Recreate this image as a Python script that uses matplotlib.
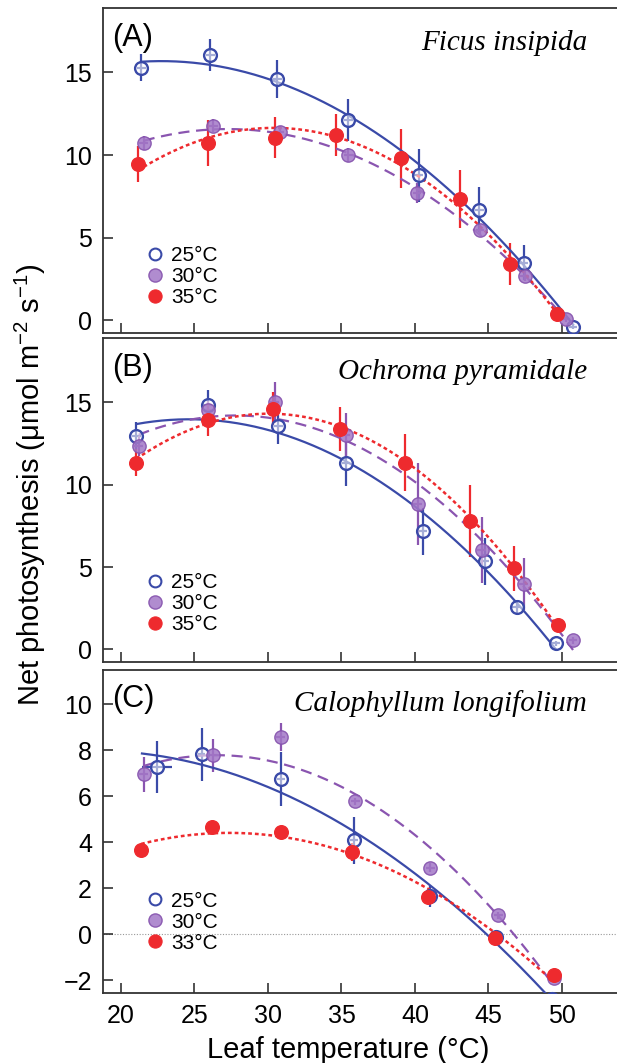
import numpy as np
import matplotlib
matplotlib.use("Agg")
import matplotlib.pyplot as plt
from matplotlib.lines import Line2D

plt.rcParams['font.family'] = ['Liberation Sans', 'DejaVu Sans']
plt.rcParams['mathtext.fontset'] = 'custom'
plt.rcParams['mathtext.rm'] = 'Liberation Sans'
plt.rcParams['mathtext.it'] = 'Liberation Sans:italic'

# ---------------- data ----------------
# Panel A: Ficus insipida
A_t25 = [21.39, 26.08, 30.63, 35.46, 40.25, 44.37, 47.39, 50.75]
A_y25 = [15.28, 16.03, 14.61, 12.13, 8.78, 6.69, 3.50, -0.37]
A_e25 = [0.82, 0.96, 1.14, 1.29, 1.60, 1.35, 1.05, 0.15]
A_t30 = [21.55, 26.29, 30.81, 35.46, 40.14, 44.42, 47.46, 50.24]
A_y30 = [10.73, 11.77, 11.38, 10.00, 7.70, 5.47, 2.68, 0.08]
A_e30 = [0.45, 0.40, 0.35, 0.40, 0.60, 0.30, 0.30, 0.15]
A_t35 = [21.16, 25.89, 30.47, 34.65, 39.04, 43.04, 46.43, 49.63]
A_y35 = [9.45, 10.71, 11.06, 11.22, 9.80, 7.32, 3.41, 0.41]
A_e35 = [1.10, 1.40, 1.25, 1.27, 1.80, 1.75, 1.25, 0.20]

# Panel B: Ochroma pyramidale
B_t25 = [21.05, 25.89, 30.69, 35.31, 40.53, 44.76, 46.93, 49.56]
B_y25 = [12.97, 14.86, 13.58, 11.30, 7.16, 5.34, 2.59, 0.39]
B_e25 = [0.80, 0.90, 1.10, 1.40, 1.40, 1.40, 0.40, 0.15]
B_t30 = [21.20, 25.94, 30.47, 35.31, 40.18, 44.53, 47.39, 50.75]
B_y30 = [12.32, 14.55, 15.00, 13.03, 8.84, 6.01, 3.97, 0.55]
B_e30 = [0.60, 0.50, 1.25, 1.30, 2.50, 2.00, 1.60, 0.20]
B_t35 = [21.05, 25.89, 30.35, 34.93, 39.32, 43.73, 46.75, 49.74]
B_y35 = [11.34, 13.92, 14.60, 13.37, 11.34, 7.78, 4.93, 1.47]
B_e35 = [0.80, 1.00, 1.00, 1.36, 1.75, 2.20, 1.36, 0.20]

# Panel C: Calophyllum longifolium
C_t25 = [22.46, 25.50, 30.88, 35.85, 41.03, 45.51, 49.33]
C_y25 = [7.28, 7.83, 6.74, 4.08, 1.65, -0.13, -2.79]
C_e25 = [1.13, 1.15, 1.18, 1.02, 0.47, 0.30, 0.15]
C_x25 = [1.03, 0.25, 0.25, 0.25, 0.25, 0.25, 0.63]
C_t30 = [21.55, 26.24, 30.86, 35.95, 41.03, 45.67, 49.45]
C_y30 = [6.96, 7.79, 8.57, 5.79, 2.90, 0.82, -1.88]
C_e30 = [0.77, 0.72, 0.60, 0.15, 0.20, 0.15, 0.15]
C_t33 = [21.37, 26.17, 30.86, 35.69, 40.87, 45.44, 49.45]
C_y33 = [3.67, 4.66, 4.47, 3.57, 1.62, -0.17, -1.77]
C_e33 = [0.25, 0.25, 0.25, 0.40, 0.25, 0.20, 0.15]

species = ["Ficus insipida", "Ochroma pyramidale", "Calophyllum longifolium"]
panel_labels = ["(A)", "(B)", "(C)"]
legend_A = ["25°C", "30°C", "35°C"]
legend_C = ["25°C", "30°C", "33°C"]

BLUE = '#3a4aa8'
PURPLE = '#8a55b0'
PURPLE_FACE = (0.64, 0.47, 0.78, 0.85)
PURPLE_EDGE = (0.52, 0.32, 0.68, 0.9)
RED = '#ee2a2e'

W, H = 617, 1063
fig = plt.figure(figsize=(W / 100, H / 100), dpi=100)

def rect(top, bottom, left=103, right=617):
    return [left / W, 1 - bottom / H, (right - left) / W, (bottom - top) / H]

axA = fig.add_axes(rect(8.4, 333))
axB = fig.add_axes(rect(338.4, 662))
axC = fig.add_axes(rect(670, 992.8))

XLIM = (18.78, 53.74)

def series(ax, t, y, e, color, face, mec, ls, lw, marker_ms, xerr=None, open_marker=False):
    t = np.asarray(t); y = np.asarray(y); e = np.asarray(e)
    if xerr is None:
        xerr = np.full_like(t, 0.3)
        x0, x1 = t.min(), t.max()
    else:
        xerr = np.asarray(xerr)
        x0, x1 = (t - xerr).min(), (t + xerr).max()
    ax.errorbar(t, y, yerr=e, xerr=xerr, fmt='none', ecolor=color, elinewidth=1.6,
                capsize=0, zorder=2)
    coef = np.polyfit(t, y, 2)
    xs = np.linspace(x0, x1, 200)
    ax.plot(xs, np.polyval(coef, xs), color=color, ls=ls, lw=lw, zorder=3)
    if open_marker:
        ax.plot(t, y, 'o', ms=marker_ms, mfc=(1, 1, 1, 0.55), mec=color, mew=1.7, zorder=4, ls='none')
    else:
        ax.plot(t, y, 'o', ms=marker_ms, mfc=face, mec=mec, mew=1.0, zorder=4, ls='none')

def style(ax, ylim, yticks, label, sp, legend_labels, leg_y, show_xlabels=False):
    ax.set_xlim(*XLIM)
    ax.set_ylim(*ylim)
    ax.set_xticks([20, 25, 30, 35, 40, 45, 50])
    ax.set_yticks(yticks)
    ax.tick_params(direction='in', length=7, width=1.1, labelsize=18, pad=8, colors='#222222',
                   labelcolor='black')
    if not show_xlabels:
        ax.tick_params(axis='x', labelbottom=False)
    for s in ['left', 'bottom', 'top']:
        ax.spines[s].set_linewidth(1.3)
        ax.spines[s].set_color('#333333')
    ax.spines['right'].set_visible(False)
    ax.text(0.0175, 0.884, label, transform=ax.transAxes, fontsize=22, ha='left', va='baseline')
    ax.text(0.942, 0.873, sp, transform=ax.transAxes, fontsize=21, ha='right', va='baseline',
            family='Liberation Serif', style='italic')
    handles = [
        Line2D([], [], marker='o', ls='none', ms=8.5, mfc='white', mec=BLUE, mew=1.5),
        Line2D([], [], marker='o', ls='none', ms=9.5, mfc=PURPLE_FACE, mec=PURPLE_EDGE, mew=1.0),
        Line2D([], [], marker='o', ls='none', ms=9.5, mfc=RED, mec=RED, mew=0.8),
    ]
    ax.legend(handles, legend_labels, loc='center left', bbox_to_anchor=(0.082, leg_y),
              frameon=False, fontsize=15, handlelength=0.9, handletextpad=0.35,
              borderpad=0, borderaxespad=0, labelspacing=0.1)

# Panel A
series(axA, A_t25, A_y25, A_e25, BLUE, None, BLUE, '-', 1.6, 9.2, open_marker=True)
series(axA, A_t30, A_y30, A_e30, PURPLE, PURPLE_FACE, PURPLE_EDGE, (0, (5, 3)), 1.6, 9.6)
series(axA, A_t35, A_y35, A_e35, RED, RED, RED, (0, (1.5, 1.2)), 1.8, 9.8)
style(axA, (-0.76, 18.87), [0, 5, 10, 15], panel_labels[0], species[0], legend_A, 0.173)

# Panel B
series(axB, B_t25, B_y25, B_e25, BLUE, None, BLUE, '-', 1.6, 9.2, open_marker=True)
series(axB, B_t30, B_y30, B_e30, PURPLE, PURPLE_FACE, PURPLE_EDGE, (0, (5, 3)), 1.6, 9.6)
series(axB, B_t35, B_y35, B_e35, RED, RED, RED, (0, (1.5, 1.2)), 1.8, 9.8)
style(axB, (-0.76, 18.87), [0, 5, 10, 15], panel_labels[1], species[1], legend_A, 0.181)

# Panel C
axC.axhline(0, color='#999999', lw=0.8, ls=(0, (1, 1.5)), zorder=1)
series(axC, C_t25, C_y25, C_e25, BLUE, None, BLUE, '-', 1.6, 9.2, xerr=C_x25, open_marker=True)
series(axC, C_t30, C_y30, C_e30, PURPLE, PURPLE_FACE, PURPLE_EDGE, (0, (5, 3)), 1.6, 9.6)
series(axC, C_t33, C_y33, C_e33, RED, RED, RED, (0, (1.5, 1.2)), 1.8, 9.8)
style(axC, (-2.54, 11.49), [-2, 0, 2, 4, 6, 8, 10], panel_labels[2], species[2], legend_C, 0.219,
      show_xlabels=True)

fig.text(348 / W, 1 - 1058 / H, "Leaf temperature (°C)", fontsize=21, ha='center', va='baseline')
fig.text(30 / W, 1 - 485 / H, "Net photosynthesis (μmol m$^{-2}$ s$^{-1}$)", fontsize=21,
         rotation=90, ha='center', va='center')

fig.savefig("out.png", dpi=100)
